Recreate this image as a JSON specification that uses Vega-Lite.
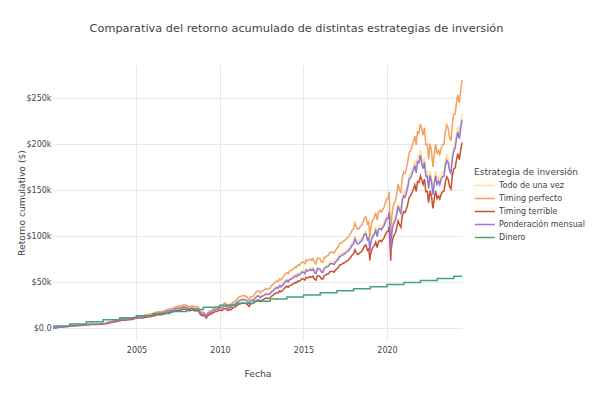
{
"$schema":"https://vega.github.io/schema/vega-lite/v6.json",
"width":409,"height":275,
"autosize":{"type":"none"},
"padding":{"left":53,"top":65,"right":131,"bottom":55},
"background":"white",
"config":{"font":"DejaVu Sans","view":{"stroke":null}},
"title":{"text":"Comparativa del retorno acumulado de distintas estrategias de inversión","fontSize":11.3,"fontWeight":"normal","color":"#444","anchor":"middle","offset":31,"dx":39},
"datasets":{"nombres":[{"code":"a","Estrategia":"Todo de una vez"},{"code":"b","Estrategia":"Timing perfecto"},{"code":"c","Estrategia":"Timing terrible"},{"code":"p","Estrategia":"Ponderación mensual"}]},
"encoding":{
"x":{"field":"d","type":"temporal","scale":{"nice":false},"axis":{"title":"Fecha","format":"%Y","values":[{"year":2005,"month":1,"date":1},{"year":2010,"month":1,"date":1},{"year":2015,"month":1,"date":1},{"year":2020,"month":1,"date":1}],"grid":true,"gridColor":"#e8e8e8","domain":false,"ticks":false,"labelFontSize":8,"labelColor":"#444","titleFontSize":9.2,"titleFontWeight":"normal","titleColor":"#444","labelPadding":6,"titlePadding":15}},
"y":{"field":"Valor","type":"quantitative","scale":{"domain":[-13000,286000],"nice":false,"zero":false},"axis":{"title":"Retorno cumulativo ($)","values":[0,50000,100000,150000,200000,250000],"labelExpr":"datum.value == 0 ? '$0.0' : '$' + (datum.value/1000) + 'k'","grid":true,"gridColor":"#e8e8e8","domain":false,"ticks":false,"labelFontSize":8,"labelColor":"#444","titleFontSize":9.2,"titleFontWeight":"normal","titleColor":"#444","labelPadding":2,"titlePadding":0}},
"color":{"field":"Estrategia","type":"nominal","scale":{"domain":["Todo de una vez","Timing perfecto","Timing terrible","Ponderación mensual","Dinero"],"range":["#fee391","#f5a05f","#c9502f","#9575d9","#45a37b"]},"legend":{"title":"Estrategia de inversión","orient":"none","legendX":421,"legendY":103,"symbolType":"M-1,0H2","symbolSize":178,"symbolStrokeWidth":1.5,"labelFontSize":8,"titleFontSize":9,"titleFontWeight":"normal","labelColor":"#444","titleColor":"#444","rowPadding":1,"titlePadding":1,"labelOffset":10}}
},
"layer":[
{"data":{"values":[
{"d":"2000-01-03","a":2100,"b":200,"c":190,"p":200},
{"d":"2000-02-29","a":1970,"b":340,"c":320,"p":340},
{"d":"2000-04-28","a":2100,"b":720,"c":680,"p":720},
{"d":"2000-06-30","a":2100,"b":1070,"c":1020,"p":1070},
{"d":"2000-08-31","a":2190,"b":1490,"c":1420,"p":1490},
{"d":"2000-10-31","a":2060,"b":1740,"c":1650,"p":1740},
{"d":"2000-12-29","a":1900,"b":1940,"c":1840,"p":1940},
{"d":"2001-02-28","a":3760,"b":2210,"c":2020,"p":2150},
{"d":"2001-04-30","a":3790,"b":2610,"c":2380,"p":2530},
{"d":"2001-06-29","a":3710,"b":2900,"c":2650,"p":2820},
{"d":"2001-08-31","a":3440,"b":3030,"c":2760,"p":2940},
{"d":"2001-10-31","a":3210,"b":3180,"c":2900,"p":3090},
{"d":"2001-12-31","a":3550,"b":3860,"c":3530,"p":3750},
{"d":"2002-02-28","a":5450,"b":4160,"c":3680,"p":3960},
{"d":"2002-04-30","a":5300,"b":4400,"c":3900,"p":4190},
{"d":"2002-06-28","a":4870,"b":4400,"c":3900,"p":4190},
{"d":"2002-08-30","a":4510,"b":4440,"c":3930,"p":4230},
{"d":"2002-10-31","a":4360,"b":4680,"c":4150,"p":4460},
{"d":"2002-12-31","a":4420,"b":5040,"c":4460,"p":4800},
{"d":"2003-02-28","a":6230,"b":5290,"c":4540,"p":4940},
{"d":"2003-04-30","a":6790,"b":6170,"c":5310,"p":5770},
{"d":"2003-06-30","a":7220,"b":6960,"c":5980,"p":6500},
{"d":"2003-08-29","a":7470,"b":7600,"c":6530,"p":7100},
{"d":"2003-10-31","a":7790,"b":8320,"c":7160,"p":7780},
{"d":"2003-12-31","a":8400,"b":9200,"c":7910,"p":8600},
{"d":"2004-02-27","a":10810,"b":9980,"c":8410,"p":9240},
{"d":"2004-04-30","a":10450,"b":10040,"c":8460,"p":9300},
{"d":"2004-06-30","a":10770,"b":10770,"c":9070,"p":9970},
{"d":"2004-08-31","a":10420,"b":10820,"c":9120,"p":10020},
{"d":"2004-10-29","a":10670,"b":11490,"c":9680,"p":10640},
{"d":"2004-12-31","a":11650,"b":12750,"c":10750,"p":11810},
{"d":"2005-02-28","a":13660,"b":13210,"c":10910,"p":12120},
{"d":"2005-04-29","a":13130,"b":13100,"c":10820,"p":12020},
{"d":"2005-06-30","a":13510,"b":13910,"c":11480,"p":12760},
{"d":"2005-08-31","a":13840,"b":14670,"c":12110,"p":13460},
{"d":"2005-10-31","a":13690,"b":14940,"c":12340,"p":13710},
{"d":"2005-12-30","a":14400,"b":15880,"c":13110,"p":14570},
{"d":"2006-02-28","a":16940,"b":16900,"c":13820,"p":15360},
{"d":"2006-04-28","a":17330,"b":17740,"c":14520,"p":16130},
{"d":"2006-06-30","a":16790,"b":17620,"c":14420,"p":16020},
{"d":"2006-08-31","a":17240,"b":18550,"c":15170,"p":16860},
{"d":"2006-10-31","a":18220,"b":20060,"c":16420,"p":18240},
{"d":"2006-12-29","a":19100,"b":21100,"c":17260,"p":19180},
{"d":"2007-02-28","a":21040,"b":21380,"c":17500,"p":19440},
{"d":"2007-04-30","a":22160,"b":23000,"c":18820,"p":20910},
{"d":"2007-06-29","a":22470,"b":23790,"c":19470,"p":21630},
{"d":"2007-08-31","a":22040,"b":23790,"c":19470,"p":21630},
{"d":"2007-10-31","a":23160,"b":25480,"c":20840,"p":23160},
{"d":"2007-12-31","a":22350,"b":24590,"c":20120,"p":22350},
{"d":"2008-02-29","a":22170,"b":22920,"c":18590,"p":20650},
{"d":"2008-04-30","a":23080,"b":24340,"c":19740,"p":21930},
{"d":"2008-06-30","a":21320,"b":22900,"c":18570,"p":20630},
{"d":"2008-08-29","a":21370,"b":23410,"c":18980,"p":21090},
{"d":"2008-09-30","a":19400,"b":21470,"c":17410,"p":19340},
{"d":"2008-10-31","a":16140,"b":18050,"c":14630,"p":16260},
{"d":"2008-11-28","a":14920,"b":16890,"c":13700,"p":15220},
{"d":"2008-12-31","a":15350,"b":17250,"c":13990,"p":15540},
{"d":"2009-01-30","a":15960,"b":16130,"c":12820,"p":14400},
{"d":"2009-02-27","a":14200,"b":14550,"c":11560,"p":12990},
{"d":"2009-03-09","a":13060,"b":13550,"c":10770,"p":12100},
{"d":"2009-03-31","a":15420,"b":16030,"c":12740,"p":14310},
{"d":"2009-04-30","a":16870,"b":17770,"c":14120,"p":15870},
{"d":"2009-05-29","a":17760,"b":18950,"c":15060,"p":16920},
{"d":"2009-06-30","a":17760,"b":19170,"c":15240,"p":17120},
{"d":"2009-07-31","a":19070,"b":20830,"c":16550,"p":18600},
{"d":"2009-08-31","a":19730,"b":21780,"c":17310,"p":19450},
{"d":"2009-09-30","a":20430,"b":22790,"c":18110,"p":20350},
{"d":"2009-10-30","a":20020,"b":22570,"c":17930,"p":20150},
{"d":"2009-11-30","a":21180,"b":24110,"c":19160,"p":21530},
{"d":"2009-12-31","a":21950,"b":24760,"c":19680,"p":22110},
{"d":"2010-01-29","a":22200,"b":24100,"c":18900,"p":21500},
{"d":"2010-02-26","a":23000,"b":25000,"c":19600,"p":22300},
{"d":"2010-03-31","a":24600,"b":26700,"c":21000,"p":23900},
{"d":"2010-04-30","a":25200,"b":27400,"c":21500,"p":24400},
{"d":"2010-05-28","a":23300,"b":25300,"c":19900,"p":22600},
{"d":"2010-06-30","a":22300,"b":24200,"c":19000,"p":21600},
{"d":"2010-07-30","a":24000,"b":26100,"c":20500,"p":23300},
{"d":"2010-08-31","a":23100,"b":25100,"c":19700,"p":22400},
{"d":"2010-09-30","a":25300,"b":27500,"c":21600,"p":24600},
{"d":"2010-10-29","a":26500,"b":28800,"c":22600,"p":25700},
{"d":"2010-11-30","a":26700,"b":29000,"c":22800,"p":25900},
{"d":"2010-12-31","a":28600,"b":31100,"c":24500,"p":27800},
{"d":"2011-01-31","a":29500,"b":32600,"c":25200,"p":28600},
{"d":"2011-02-28","a":30700,"b":33900,"c":26200,"p":29800},
{"d":"2011-03-31","a":30900,"b":34200,"c":26400,"p":30000},
{"d":"2011-04-29","a":32000,"b":35400,"c":27300,"p":31100},
{"d":"2011-05-31","a":31800,"b":35200,"c":27100,"p":30800},
{"d":"2011-06-30","a":31400,"b":34800,"c":26900,"p":30500},
{"d":"2011-07-29","a":31000,"b":34300,"c":26500,"p":30100},
{"d":"2011-08-31","a":29400,"b":32600,"c":25100,"p":28600},
{"d":"2011-09-30","a":27500,"b":30500,"c":23500,"p":26700},
{"d":"2011-10-31","a":30700,"b":34000,"c":26300,"p":29800},
{"d":"2011-11-30","a":30800,"b":34100,"c":26300,"p":29900},
{"d":"2011-12-30","a":31300,"b":34700,"c":26800,"p":30400},
{"d":"2012-01-31","a":32900,"b":37100,"c":28100,"p":31900},
{"d":"2012-02-29","a":34500,"b":38900,"c":29500,"p":33500},
{"d":"2012-03-30","a":35800,"b":40300,"c":30600,"p":34800},
{"d":"2012-04-30","a":35800,"b":40300,"c":30600,"p":34700},
{"d":"2012-05-31","a":33700,"b":38000,"c":28800,"p":32800},
{"d":"2012-06-29","a":35300,"b":39800,"c":30200,"p":34300},
{"d":"2012-07-31","a":36000,"b":40500,"c":30800,"p":35000},
{"d":"2012-08-31","a":37000,"b":41600,"c":31600,"p":35900},
{"d":"2012-09-28","a":38100,"b":42900,"c":32600,"p":37000},
{"d":"2012-10-31","a":37600,"b":42300,"c":32100,"p":36500},
{"d":"2012-11-30","a":37900,"b":42700,"c":32400,"p":36800},
{"d":"2012-12-31","a":38400,"b":43300,"c":32800,"p":37300},
{"d":"2013-01-31","a":40600,"b":46100,"c":34700,"p":39400},
{"d":"2013-02-28","a":41300,"b":46900,"c":35300,"p":40100},
{"d":"2013-03-28","a":43000,"b":48900,"c":36800,"p":41800},
{"d":"2013-04-30","a":44100,"b":50100,"c":37700,"p":42800},
{"d":"2013-05-31","a":45200,"b":51400,"c":38600,"p":43900},
{"d":"2013-06-28","a":44800,"b":50900,"c":38300,"p":43500},
{"d":"2013-07-31","a":47300,"b":53700,"c":40400,"p":45900},
{"d":"2013-08-30","a":46000,"b":52300,"c":39300,"p":44700},
{"d":"2013-09-30","a":47700,"b":54200,"c":40700,"p":46300},
{"d":"2013-10-31","a":50100,"b":56900,"c":42800,"p":48600},
{"d":"2013-11-29","a":51700,"b":58800,"c":44200,"p":50200},
{"d":"2013-12-31","a":53200,"b":60400,"c":45400,"p":51600},
{"d":"2014-01-31","a":51600,"b":59100,"c":44100,"p":50100},
{"d":"2014-02-28","a":54000,"b":61900,"c":46200,"p":52500},
{"d":"2014-03-31","a":54700,"b":62600,"c":46700,"p":53100},
{"d":"2014-04-30","a":55300,"b":63300,"c":47200,"p":53700},
{"d":"2014-05-30","a":56700,"b":65000,"c":48500,"p":55100},
{"d":"2014-06-30","a":58100,"b":66500,"c":49600,"p":56400},
{"d":"2014-07-31","a":57500,"b":65800,"c":49100,"p":55800},
{"d":"2014-08-29","a":59900,"b":68600,"c":51200,"p":58100},
{"d":"2014-09-30","a":59200,"b":67900,"c":50600,"p":57500},
{"d":"2014-10-31","a":60900,"b":69800,"c":52000,"p":59100},
{"d":"2014-11-28","a":62700,"b":71800,"c":53600,"p":60900},
{"d":"2014-12-31","a":62400,"b":71500,"c":53300,"p":60600},
{"d":"2015-01-30","a":61000,"b":69900,"c":52100,"p":59200},
{"d":"2015-02-27","a":64600,"b":74100,"c":55200,"p":62800},
{"d":"2015-03-31","a":63800,"b":73100,"c":54500,"p":61900},
{"d":"2015-04-30","a":64600,"b":74000,"c":55200,"p":62700},
{"d":"2015-05-29","a":65600,"b":75100,"c":56000,"p":63600},
{"d":"2015-06-30","a":64500,"b":73800,"c":55100,"p":62600},
{"d":"2015-07-31","a":66000,"b":75600,"c":56400,"p":64100},
{"d":"2015-08-31","a":62100,"b":71200,"c":53100,"p":60300},
{"d":"2015-09-30","a":60800,"b":69600,"c":51900,"p":59000},
{"d":"2015-10-30","a":66100,"b":75700,"c":56500,"p":64200},
{"d":"2015-11-30","a":66400,"b":76100,"c":56700,"p":64500},
{"d":"2015-12-31","a":65500,"b":75100,"c":56000,"p":63600},
{"d":"2016-01-29","a":62500,"b":71600,"c":53400,"p":60600},
{"d":"2016-02-29","a":62500,"b":71600,"c":53400,"p":60700},
{"d":"2016-03-31","a":66900,"b":76600,"c":57200,"p":65000},
{"d":"2016-04-29","a":67300,"b":77200,"c":57500,"p":65400},
{"d":"2016-05-31","a":68700,"b":78700,"c":58700,"p":66700},
{"d":"2016-06-30","a":69000,"b":79100,"c":59000,"p":67000},
{"d":"2016-07-29","a":71800,"b":82200,"c":61300,"p":69700},
{"d":"2016-08-31","a":72000,"b":82500,"c":61500,"p":69900},
{"d":"2016-09-30","a":72200,"b":82700,"c":61600,"p":70100},
{"d":"2016-10-31","a":71000,"b":81400,"c":60700,"p":69000},
{"d":"2016-11-30","a":73800,"b":84500,"c":63000,"p":71600},
{"d":"2016-12-30","a":75400,"b":86400,"c":64400,"p":73200},
{"d":"2017-01-31","a":77100,"b":88300,"c":65800,"p":74800},
{"d":"2017-02-28","a":80200,"b":91900,"c":68600,"p":77900},
{"d":"2017-03-31","a":80500,"b":92200,"c":68800,"p":78200},
{"d":"2017-04-28","a":81500,"b":93400,"c":69700,"p":79200},
{"d":"2017-05-31","a":82800,"b":94800,"c":70700,"p":80400},
{"d":"2017-06-30","a":83500,"b":95600,"c":71300,"p":81000},
{"d":"2017-07-31","a":85400,"b":97800,"c":73000,"p":82900},
{"d":"2017-08-31","a":85800,"b":98300,"c":73300,"p":83300},
{"d":"2017-09-29","a":87700,"b":100500,"c":75000,"p":85200},
{"d":"2017-10-31","a":90000,"b":103100,"c":76900,"p":87400},
{"d":"2017-11-30","a":92900,"b":106400,"c":79300,"p":90200},
{"d":"2017-12-29","a":94100,"b":107800,"c":80400,"p":91400},
{"d":"2018-01-31","a":99700,"b":114200,"c":85200,"p":96800},
{"d":"2018-02-28","a":96200,"b":110200,"c":82200,"p":93400},
{"d":"2018-03-29","a":93900,"b":107600,"c":80200,"p":91200},
{"d":"2018-04-30","a":94500,"b":108200,"c":80700,"p":91700},
{"d":"2018-05-31","a":96800,"b":110900,"c":82700,"p":94000},
{"d":"2018-06-29","a":97600,"b":111800,"c":83400,"p":94800},
{"d":"2018-07-31","a":101500,"b":116200,"c":86700,"p":98500},
{"d":"2018-08-31","a":104900,"b":120200,"c":89600,"p":101900},
{"d":"2018-09-28","a":105700,"b":121100,"c":90300,"p":102600},
{"d":"2018-10-31","a":98700,"b":113000,"c":84300,"p":95800},
{"d":"2018-11-30","a":100800,"b":115400,"c":86100,"p":97800},
{"d":"2018-12-24","a":86000,"b":98500,"c":73500,"p":83500},
{"d":"2018-12-31","a":91800,"b":105200,"c":78400,"p":89100},
{"d":"2019-01-31","a":99400,"b":113900,"c":84900,"p":96500},
{"d":"2019-02-28","a":102700,"b":117600,"c":87700,"p":99700},
{"d":"2019-03-29","a":104900,"b":120100,"c":89600,"p":101800},
{"d":"2019-04-30","a":109300,"b":125300,"c":93400,"p":106200},
{"d":"2019-05-31","a":102500,"b":117400,"c":87500,"p":99500},
{"d":"2019-06-28","a":109900,"b":125900,"c":93900,"p":106700},
{"d":"2019-07-31","a":111700,"b":127900,"c":95400,"p":108400},
{"d":"2019-08-30","a":110000,"b":126000,"c":94000,"p":106800},
{"d":"2019-09-30","a":112300,"b":128600,"c":95900,"p":109000},
{"d":"2019-10-31","a":114900,"b":131600,"c":98200,"p":111600},
{"d":"2019-11-29","a":119200,"b":136500,"c":101800,"p":115700},
{"d":"2019-12-31","a":123000,"b":140900,"c":105100,"p":119400},
{"d":"2020-01-31","a":123100,"b":141100,"c":105200,"p":119600},
{"d":"2020-02-19","a":129400,"b":148300,"c":110600,"p":125700},
{"d":"2020-02-28","a":113100,"b":129600,"c":96600,"p":109800},
{"d":"2020-03-23","a":85800,"b":98300,"c":73300,"p":83300},
{"d":"2020-03-31","a":99300,"b":113800,"c":84800,"p":96400},
{"d":"2020-04-30","a":112200,"b":128600,"c":95900,"p":109000},
{"d":"2020-05-29","a":117700,"b":134800,"c":100500,"p":114200},
{"d":"2020-06-30","a":120200,"b":137700,"c":102700,"p":116700},
{"d":"2020-07-31","a":127200,"b":145700,"c":108700,"p":123500},
{"d":"2020-08-31","a":136500,"b":156400,"c":116600,"p":132500},
{"d":"2020-09-30","a":131500,"b":150700,"c":112400,"p":127700},
{"d":"2020-10-30","a":128200,"b":146900,"c":109600,"p":124500},
{"d":"2020-11-30","a":142500,"b":163200,"c":121700,"p":138300},
{"d":"2020-12-31","a":148100,"b":169700,"c":126500,"p":143800},
{"d":"2021-01-29","a":146900,"b":168300,"c":125500,"p":142600},
{"d":"2021-02-26","a":151100,"b":173100,"c":129100,"p":146700},
{"d":"2021-03-31","a":157900,"b":180900,"c":134900,"p":153300},
{"d":"2021-04-30","a":166700,"b":190900,"c":142400,"p":161800},
{"d":"2021-05-28","a":168000,"b":192500,"c":143500,"p":163100},
{"d":"2021-06-30","a":172200,"b":197300,"c":147100,"p":167200},
{"d":"2021-07-30","a":176500,"b":202300,"c":150800,"p":171400},
{"d":"2021-08-31","a":182100,"b":208600,"c":155600,"p":176800},
{"d":"2021-09-30","a":173900,"b":199200,"c":148500,"p":168800},
{"d":"2021-10-29","a":186300,"b":213500,"c":159200,"p":180900},
{"d":"2021-11-30","a":185200,"b":212200,"c":158200,"p":179800},
{"d":"2021-12-31","a":193700,"b":222000,"c":165500,"p":188100},
{"d":"2022-01-31","a":184100,"b":216200,"c":160800,"p":178700},
{"d":"2022-02-28","a":178700,"b":209900,"c":156200,"p":173500},
{"d":"2022-03-31","a":185500,"b":217900,"c":162100,"p":180100},
{"d":"2022-04-29","a":169600,"b":199300,"c":148200,"p":164700},
{"d":"2022-05-31","a":170100,"b":199800,"c":148600,"p":165100},
{"d":"2022-06-30","a":156200,"b":183400,"c":136400,"p":151600},
{"d":"2022-07-29","a":170800,"b":200600,"c":149200,"p":165800},
{"d":"2022-08-31","a":164000,"b":192600,"c":143300,"p":159200},
{"d":"2022-09-30","a":149000,"b":175100,"c":130200,"p":144700},
{"d":"2022-10-31","a":161400,"b":189600,"c":141000,"p":156700},
{"d":"2022-11-30","a":170500,"b":200300,"c":149000,"p":165500},
{"d":"2022-12-30","a":160900,"b":189000,"c":140600,"p":156200},
{"d":"2023-01-31","a":164400,"b":193100,"c":143600,"p":159600},
{"d":"2023-02-28","a":160600,"b":188600,"c":140300,"p":155900},
{"d":"2023-03-31","a":166700,"b":195800,"c":145600,"p":161800},
{"d":"2023-04-28","a":169400,"b":199000,"c":148100,"p":164500},
{"d":"2023-05-31","a":170400,"b":200100,"c":148900,"p":165400},
{"d":"2023-06-30","a":181800,"b":213600,"c":158900,"p":176500},
{"d":"2023-07-31","a":188000,"b":220800,"c":164300,"p":182500},
{"d":"2023-08-31","a":185100,"b":217400,"c":161700,"p":179700},
{"d":"2023-09-29","a":176500,"b":207400,"c":154300,"p":171400},
{"d":"2023-10-31","a":173000,"b":203300,"c":151200,"p":168000},
{"d":"2023-11-30","a":189000,"b":222000,"c":165200,"p":183500},
{"d":"2023-12-29","a":197800,"b":232300,"c":172800,"p":192000},
{"d":"2024-01-31","a":201500,"b":232800,"c":174100,"p":195600},
{"d":"2024-02-29","a":212300,"b":245300,"c":183400,"p":206100},
{"d":"2024-03-28","a":219400,"b":253500,"c":189600,"p":213000},
{"d":"2024-04-30","a":211900,"b":244800,"c":183100,"p":205700},
{"d":"2024-05-31","a":223800,"b":258600,"c":193400,"p":217300},
{"d":"2024-06-28","a":233300,"b":269500,"c":201600,"p":226500}
]},
"transform":[{"fold":["a","b","c","p"],"as":["code","Valor"]},{"lookup":"code","from":{"data":{"name":"nombres"},"key":"code","fields":["Estrategia"]}}],
"mark":{"type":"line","strokeWidth":1.5}},
{"data":{"values":[
{"d":"2000-01-03","Estrategia":"Dinero","Valor":2250},
{"d":"2001-01-02","Estrategia":"Dinero","Valor":4500},
{"d":"2002-01-02","Estrategia":"Dinero","Valor":6750},
{"d":"2003-01-02","Estrategia":"Dinero","Valor":9000},
{"d":"2004-01-02","Estrategia":"Dinero","Valor":11250},
{"d":"2005-01-03","Estrategia":"Dinero","Valor":13500},
{"d":"2006-01-03","Estrategia":"Dinero","Valor":15750},
{"d":"2007-01-03","Estrategia":"Dinero","Valor":18000},
{"d":"2008-01-02","Estrategia":"Dinero","Valor":20250},
{"d":"2009-01-02","Estrategia":"Dinero","Valor":22500},
{"d":"2010-01-04","Estrategia":"Dinero","Valor":24750},
{"d":"2011-01-03","Estrategia":"Dinero","Valor":27000},
{"d":"2012-01-03","Estrategia":"Dinero","Valor":29250},
{"d":"2013-01-02","Estrategia":"Dinero","Valor":31500},
{"d":"2014-01-02","Estrategia":"Dinero","Valor":33750},
{"d":"2015-01-02","Estrategia":"Dinero","Valor":36000},
{"d":"2016-01-04","Estrategia":"Dinero","Valor":38250},
{"d":"2017-01-03","Estrategia":"Dinero","Valor":40500},
{"d":"2018-01-02","Estrategia":"Dinero","Valor":42750},
{"d":"2019-01-02","Estrategia":"Dinero","Valor":45000},
{"d":"2020-01-02","Estrategia":"Dinero","Valor":47250},
{"d":"2021-01-04","Estrategia":"Dinero","Valor":49500},
{"d":"2022-01-03","Estrategia":"Dinero","Valor":51750},
{"d":"2023-01-03","Estrategia":"Dinero","Valor":54000},
{"d":"2024-01-02","Estrategia":"Dinero","Valor":56250},
{"d":"2024-06-28","Estrategia":"Dinero","Valor":56250}
]},
"mark":{"type":"line","interpolate":"step-after","strokeWidth":1.5}}
]
}
